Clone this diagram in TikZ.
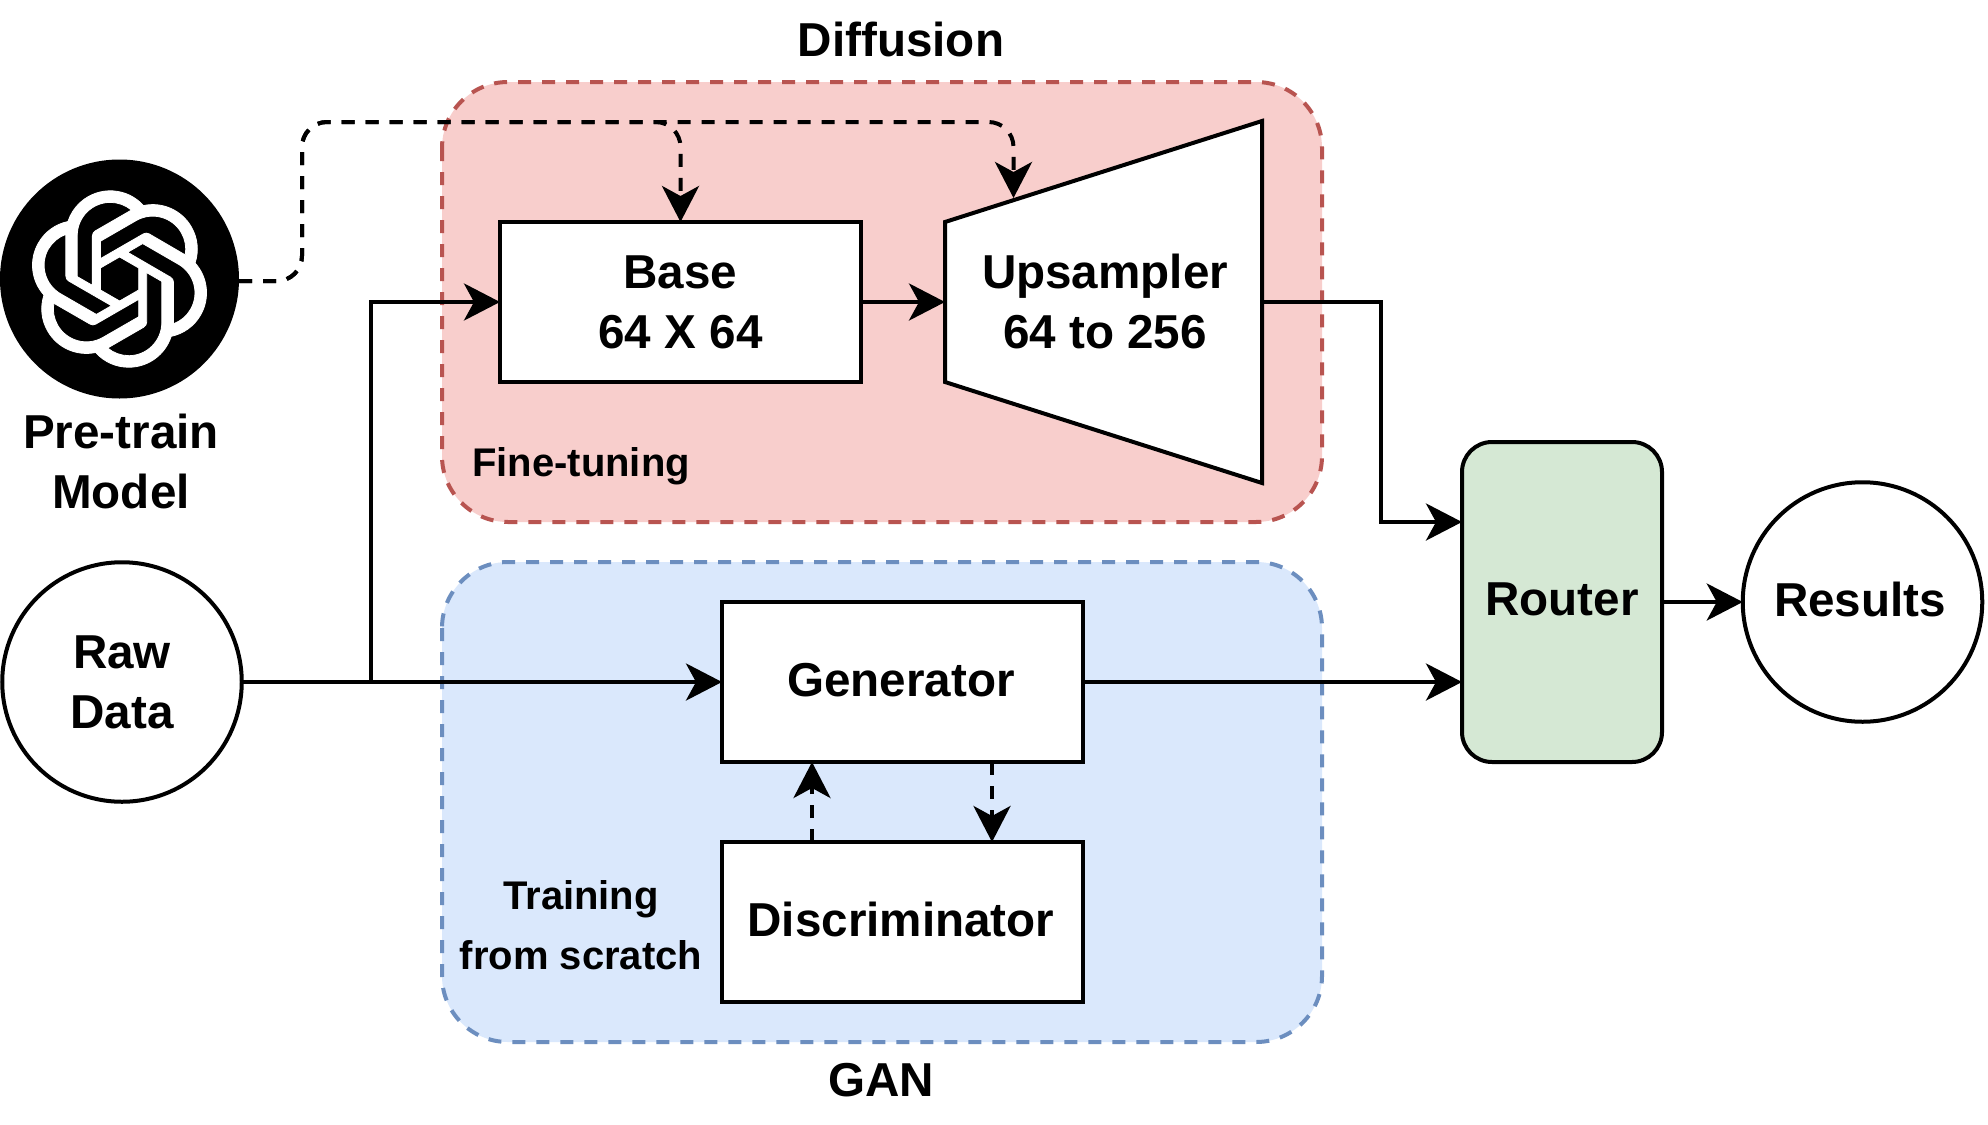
\documentclass[tikz,border=0pt]{standalone}
\usepackage{fontspec}
\setmainfont{Liberation Sans}
\usetikzlibrary{arrows.meta,svg.path}
\definecolor{redfill}{HTML}{F8CECC}
\definecolor{redline}{HTML}{B85450}
\definecolor{bluefill}{HTML}{DAE8FC}
\definecolor{blueline}{HTML}{6C8EBF}
\definecolor{greenfill}{HTML}{D5E8D4}
\newcommand{\bigfont}{\fontsize{47.6}{60}\selectfont\bfseries}
\newcommand{\smallfont}{\fontsize{40}{60}\selectfont\bfseries}
\tikzset{
  x=1pt,y=-1pt,
  every node/.style={inner sep=0pt,outer sep=0pt,align=center},
  lbl/.style={font=\bigfont},
  sublbl/.style={font=\smallfont},
  group/.style={line width=4pt,dash pattern=on 13pt off 11pt,rounded corners=66pt},
  blockbox/.style={draw=black,fill=white,line width=4pt,minimum width=361pt,minimum height=160pt,font=\bigfont},
  roundnode/.style={circle,draw=black,fill=white,line width=4pt,minimum size=239.5pt,font=\bigfont},
  conn/.style={line width=4pt,-{Stealth[length=36pt,width=37pt,inset=10pt]}},
  dconn/.style={conn,dash pattern=on 13pt off 11pt},
  dsplit/.style={conn,dash pattern=on 13pt off 11pt,rounded corners=25pt},
}
\begin{document}
\begin{tikzpicture}
\useasboundingbox (0,0) rectangle (1988,1124);
\fill[white] (0,0) rectangle (1988,1124);
% groups
\draw[group,fill=redfill,draw=redline] (442,82) rectangle (1322,522);
\draw[group,fill=bluefill,draw=blueline] (442,562) rectangle (1322,1042);
\node[lbl] (difflabel) at (901,39) {Diffusion};
\node[lbl] (ganlabel) at (881,1080) {GAN};
\node[sublbl] (finelabel) at (581,466) {Fine-tuning};
\node[sublbl] (scratchlabel) at (581,925) {Training\\from scratch};
% logo
\node[circle,fill=black,minimum size=239pt] (logo) at (119.5,279) {};
\begin{scope}[shift={(logo.center)},xscale=7.35,yscale=-7.35,shift={(-12pt,-12pt)}]
\fill[white,draw=white,line width=0.8pt] svg "M 22.2819 9.8211 a 5.9847 5.9847 0 0 0 -0.5157 -4.9108 a 6.0462 6.0462 0 0 0 -6.5098 -2.9 A 6.0651 6.0651 0 0 0 4.9807 4.1818 a 5.9847 5.9847 0 0 0 -3.9977 2.9 a 6.0462 6.0462 0 0 0 0.7427 7.0966 a 5.98 5.98 0 0 0 0.511 4.9107 a 6.051 6.0510 0 0 0 6.5146 2.9001 A 5.9847 5.9847 0 0 0 13.2599 24 a 6.0557 6.0557 0 0 0 5.7718 -4.2058 a 5.9894 5.9894 0 0 0 3.9977 -2.9001 a 6.0557 6.0557 0 0 0 -0.7475 -7.0729 z M 13.2599 22.4292 a 4.4755 4.4755 0 0 1 -2.8764 -1.0408 l 0.1419 -0.0804 l 4.7783 -2.7582 a 0.7948 0.7948 0 0 0 0.3927 -0.6813 v -6.7369 l 2.02 1.1686 a 0.071 0.071 0 0 1 0.038 0.052 v 5.5826 a 4.504 4.504 0 0 1 -4.4945 4.4944 z M 3.5992 18.3038 a 4.4708 4.4708 0 0 1 -0.5346 -3.0137 l 0.142 0.0852 l 4.783 2.7582 a 0.7712 0.7712 0 0 0 0.7806 0 l 5.8428 -3.3685 v 2.3324 a 0.0804 0.0804 0 0 1 -0.0332 0.0615 L 9.74 19.9502 a 4.4992 4.4992 0 0 1 -6.1408 -1.6464 z M 2.3408 7.8956 a 4.485 4.485 0 0 1 2.3655 -1.9728 V 11.6 a 0.7664 0.7664 0 0 0 0.3879 0.6765 l 5.8144 3.3543 l -2.0201 1.1685 a 0.0757 0.0757 0 0 1 -0.071 0 l -4.8303 -2.7865 A 4.504 4.504 0 0 1 2.3408 7.872 z M 18.9371 11.7514 L 13.1038 8.364 L 15.1192 7.2 a 0.0757 0.0757 0 0 1 0.071 0 l 4.8303 2.7913 a 4.4944 4.4944 0 0 1 -0.6765 8.1042 v -5.6772 a 0.79 0.79 0 0 0 -0.407 -0.667 z M 20.9478 8.7283 l -0.142 -0.0852 l -4.7735 -2.7818 a 0.7759 0.7759 0 0 0 -0.7854 0 L 9.409 9.2297 V 6.8974 a 0.0662 0.0662 0 0 1 0.0284 -0.0615 l 4.8303 -2.7866 a 4.4992 4.4992 0 0 1 6.6802 4.66 z M 8.3065 12.863 l -2.02 -1.1638 a 0.0804 0.0804 0 0 1 -0.038 -0.0567 V 6.0742 a 4.4992 4.4992 0 0 1 7.3757 -3.4537 l -0.142 0.0805 L 8.704 5.459 a 0.7948 0.7948 0 0 0 -0.3927 0.6813 z M 9.4041 10.4976 l 2.602 -1.4998 l 2.6069 1.4998 v 2.9994 l -2.5974 1.4997 l -2.6067 -1.4997 z";
\end{scope}
\node[lbl] (pretrain) at (121,461) {Pre-train\\Model};
% blocks
\node[blockbox] (base) at (680.5,302) {Base\\64 X 64};
\coordinate (upTL) at (945,222);
\coordinate (upTR) at (1262,121);
\coordinate (upBR) at (1262,483);
\coordinate (upBL) at (945,382);
\draw[fill=white,line width=4pt,line join=miter] (upTL) -- (upTR) -- (upBR) -- (upBL) -- cycle;
\node[font=\bigfont] (up) at (1105,301) {Upsampler\\64 to 256};
\coordinate (upwest) at (945,302);
\coordinate (upeast) at (1262,302);
\node[blockbox,text depth=4pt] (gen) at (902.5,682) {Generator\hspace{3pt}};
\node[blockbox,text depth=5pt] (disc) at (902.5,922) {Discriminator\hspace{3pt}};
\node[draw=black,fill=greenfill,line width=4pt,rounded corners=30pt,minimum width=200pt,minimum height=320pt,font=\bigfont,text depth=6pt] (router) at (1562,602) {Router};
\node[roundnode] (raw) at (122,682) {Raw\\Data};
\node[roundnode,text depth=6pt] (results) at (1862.5,602) {Results\hspace{5pt}};
% way points
\coordinate (branch) at (371,682);
\coordinate (branchtop) at (371,302);
\coordinate (upturn) at (1381,302);
\coordinate (updown) at (1381,522);
\coordinate (routerin) at (1462,522);
\coordinate (routerlow) at (1462,682);
\coordinate (w1) at (302,281);
\coordinate (w2) at (302,122);
\coordinate (w3) at (680.5,122);
\coordinate (w4) at (1013.5,122);
\coordinate (uptop) at (1013.5,198);
\coordinate (genD) at (992,762);
\coordinate (discD) at (992,842);
\coordinate (genU) at (812,762);
\coordinate (discU) at (812,842);
% connectors
\draw[conn] (raw.east) -- (gen.west);
\draw[conn] (branch) -- (branchtop) -- (base.west);
\draw[conn] (base.east) -- (upwest);
\draw[conn] (upeast) -- (upturn) -- (updown) -- (routerin);
\draw[conn] (gen.east) -- (routerlow);
\draw[conn] (router.east) -- (results.west);
\draw[dconn] (discU) -- (genU);
\draw[dconn] (genD) -- (discD);
\draw[dsplit] ([yshift=-2pt]logo.east) -- (w1) -- (w2) -- (w3) -- (base.north);
\draw[dsplit] ([yshift=-2pt]logo.east) -- (w1) -- (w2) -- (w4) -- (uptop);
\end{tikzpicture}
\end{document}
